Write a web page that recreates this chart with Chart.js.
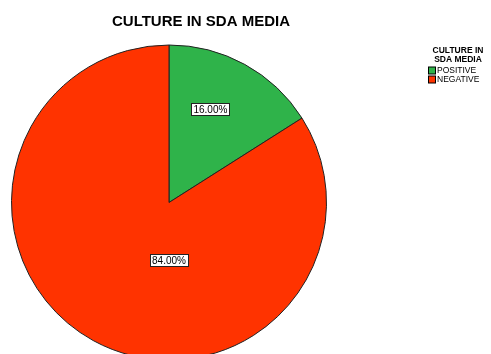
<!DOCTYPE html>
<html>
<head>
<meta charset="utf-8">
<script src="https://cdn.jsdelivr.net/npm/chart.js@4/dist/chart.umd.min.js"></script>
<style>
  html, body { margin: 0; padding: 0; background: #fff; overflow: hidden; }
  #wrap { width: 491px; height: 354px; overflow: hidden; }
</style>
</head>
<body>
<div id="wrap"><canvas id="pie" width="491" height="370"></canvas></div>
<script>
const chartTitle = "CULTURE IN SDA MEDIA";
const legendTitle = ["CULTURE IN", "SDA MEDIA"];
const categories = ["POSITIVE", "NEGATIVE"];
const percents = [16, 84];
const sliceColors = ["#2fb34a", "#ff3300"];
// where each percent box sits, as a fraction of the radius from the centre
const labelOffsets = [[0.263, -0.593], [0.0, 0.368]];

const FONT = "'Liberation Sans', Arial, sans-serif";

const decorations = {
    id: "decorations",
    afterDraw(chart) {
        const ctx = chart.ctx;
        ctx.save();

        // main title
        ctx.fillStyle = "#000";
        ctx.font = "bold 15px " + FONT;
        ctx.textAlign = "center";
        ctx.textBaseline = "middle";
        ctx.fillText(chartTitle, 201, 22);

        // legend block on the right
        ctx.font = "bold 8.5px " + FONT;
        legendTitle.forEach((line, i) => ctx.fillText(line, 458, 51 + i * 9));
        ctx.textAlign = "left";
        ctx.font = "8.5px " + FONT;
        categories.forEach((name, i) => {
            const y = 67 + i * 9;
            ctx.fillStyle = sliceColors[i];
            ctx.fillRect(428.5, y, 7, 7);
            ctx.strokeStyle = "#000";
            ctx.lineWidth = 1;
            ctx.strokeRect(428.5, y, 7, 7);
            ctx.fillStyle = "#000";
            ctx.fillText(name, 437, y + 4);
        });

        // boxed percent labels
        const arcs = chart.getDatasetMeta(0).data;
        ctx.font = "10px " + FONT;
        ctx.textAlign = "center";
        arcs.forEach((arc, i) => {
            const r = arc.outerRadius;
            const cx = arc.x + labelOffsets[i][0] * r;
            const cy = arc.y + labelOffsets[i][1] * r;
            const txt = percents[i].toFixed(2) + "%";
            const w = ctx.measureText(txt).width + 4;
            const h = 12;
            ctx.fillStyle = "#fff";
            ctx.fillRect(Math.round(cx - w / 2) + 0.5, Math.round(cy - h / 2) + 0.5, Math.round(w), h);
            ctx.strokeStyle = "#222";
            ctx.strokeRect(Math.round(cx - w / 2) + 0.5, Math.round(cy - h / 2) + 0.5, Math.round(w), h);
            ctx.fillStyle = "#000";
            ctx.fillText(txt, cx, cy + 1);
        });

        ctx.restore();
    }
};

new Chart(document.getElementById("pie"), {
    type: "pie",
    data: {
        labels: categories,
        datasets: [{
            data: percents,
            backgroundColor: sliceColors,
            borderColor: "#222",
            borderWidth: 1,
            hoverOffset: 0
        }]
    },
    options: {
        responsive: false,
        animation: false,
        layout: { padding: { left: 11, right: 164, top: 44.5, bottom: 9.5 } },
        plugins: {
            legend: { display: false },
            title: { display: false },
            tooltip: { enabled: false }
        }
    },
    plugins: [decorations]
});
</script>
</body>
</html>
